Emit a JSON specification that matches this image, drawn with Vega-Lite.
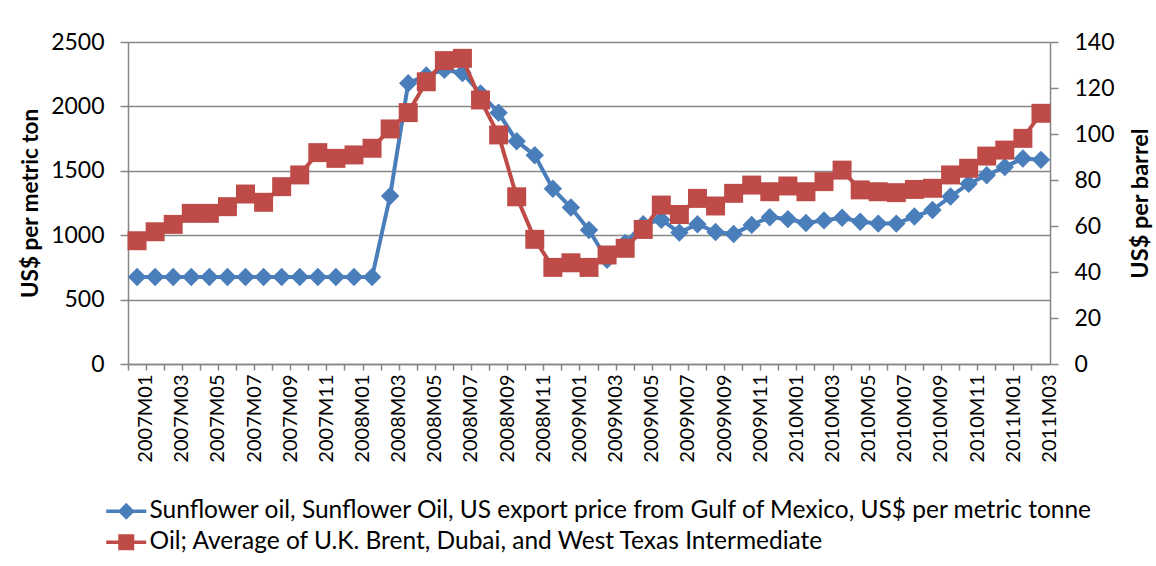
{
  "$schema": "https://vega.github.io/schema/vega-lite/v6.json",
  "autosize": "none",
  "width": 922,
  "height": 322,
  "padding": {"left": 128, "top": 42, "right": 106, "bottom": 202},
  "background": "white",
  "config": {
    "view": {"stroke": null},
    "font": "Lato",
    "axis": {"labelFont": "Lato", "titleFont": "Lato", "labelColor": "black", "titleColor": "black", "domainColor": "#868686", "tickColor": "#868686", "domainWidth": 1.5, "tickWidth": 1.5}
  },
  "data": {
    "values": [
      {"month": "2007M01", "sunflower": 675, "oil": 53.6},
      {"month": "2007M02", "sunflower": 675, "oil": 57.5},
      {"month": "2007M03", "sunflower": 675, "oil": 60.7},
      {"month": "2007M04", "sunflower": 675, "oil": 65.5},
      {"month": "2007M05", "sunflower": 675, "oil": 65.5},
      {"month": "2007M06", "sunflower": 675, "oil": 68.4},
      {"month": "2007M07", "sunflower": 675, "oil": 73.9},
      {"month": "2007M08", "sunflower": 675, "oil": 70.3},
      {"month": "2007M09", "sunflower": 675, "oil": 77.1},
      {"month": "2007M10", "sunflower": 675, "oil": 82.2},
      {"month": "2007M11", "sunflower": 675, "oil": 91.9},
      {"month": "2007M12", "sunflower": 675, "oil": 89.4},
      {"month": "2008M01", "sunflower": 675, "oil": 90.9},
      {"month": "2008M02", "sunflower": 675, "oil": 93.8},
      {"month": "2008M03", "sunflower": 1305, "oil": 102.2},
      {"month": "2008M04", "sunflower": 2180, "oil": 109.3},
      {"month": "2008M05", "sunflower": 2240, "oil": 122.7},
      {"month": "2008M06", "sunflower": 2285, "oil": 131.9},
      {"month": "2008M07", "sunflower": 2260, "oil": 132.9},
      {"month": "2008M08", "sunflower": 2100, "oil": 114.8},
      {"month": "2008M09", "sunflower": 1950, "oil": 99.6},
      {"month": "2008M10", "sunflower": 1730, "oil": 72.7},
      {"month": "2008M11", "sunflower": 1620, "oil": 54.2},
      {"month": "2008M12", "sunflower": 1360, "oil": 42.0},
      {"month": "2009M01", "sunflower": 1215, "oil": 44.0},
      {"month": "2009M02", "sunflower": 1040, "oil": 42.0},
      {"month": "2009M03", "sunflower": 810, "oil": 47.4},
      {"month": "2009M04", "sunflower": 940, "oil": 50.3},
      {"month": "2009M05", "sunflower": 1085, "oil": 58.5},
      {"month": "2009M06", "sunflower": 1120, "oil": 69.1},
      {"month": "2009M07", "sunflower": 1020, "oil": 65.0},
      {"month": "2009M08", "sunflower": 1085, "oil": 72.0},
      {"month": "2009M09", "sunflower": 1025, "oil": 68.7},
      {"month": "2009M10", "sunflower": 1010, "oil": 74.2},
      {"month": "2009M11", "sunflower": 1080, "oil": 77.8},
      {"month": "2009M12", "sunflower": 1140, "oil": 74.9},
      {"month": "2010M01", "sunflower": 1125, "oil": 77.4},
      {"month": "2010M02", "sunflower": 1095, "oil": 74.9},
      {"month": "2010M03", "sunflower": 1115, "oil": 79.3},
      {"month": "2010M04", "sunflower": 1135, "oil": 84.3},
      {"month": "2010M05", "sunflower": 1105, "oil": 75.7},
      {"month": "2010M06", "sunflower": 1090, "oil": 74.9},
      {"month": "2010M07", "sunflower": 1090, "oil": 74.5},
      {"month": "2010M08", "sunflower": 1145, "oil": 75.9},
      {"month": "2010M09", "sunflower": 1195, "oil": 76.4},
      {"month": "2010M10", "sunflower": 1300, "oil": 82.2},
      {"month": "2010M11", "sunflower": 1400, "oil": 85.1},
      {"month": "2010M12", "sunflower": 1465, "oil": 90.4},
      {"month": "2011M01", "sunflower": 1530, "oil": 93.0},
      {"month": "2011M02", "sunflower": 1595, "oil": 98.1},
      {"month": "2011M03", "sunflower": 1585, "oil": 109.0}
    ]
  },
  "encoding": {
    "x": {
      "field": "month", "type": "nominal", "sort": null, "bandPosition": 0.5,
      "scale": {"type": "band", "paddingInner": 0, "paddingOuter": 0},
      "axis": {
        "title": null, "bandPosition": 0, "labelOffset": 9, "labelAngle": 270,
        "labelAlign": "right", "labelBaseline": "middle", "labelFontSize": 20,
        "labelPadding": 4, "tickSize": 6, "grid": false, "labelOverlap": false,
        "labelExpr": "(toNumber(slice(datum.value, 5)) % 2 == 1) ? datum.value : ''"
      }
    }
  },
  "layer": [
    {
      "encoding": {
        "y": {
          "field": "sunflower", "type": "quantitative",
          "scale": {"domain": [0, 2500], "nice": false, "zero": true},
          "axis": {
            "orient": "left", "title": "US$ per metric ton", "values": [0, 500, 1000, 1500, 2000, 2500], "format": "d",
            "grid": true, "gridColor": "#868686", "gridWidth": 1.5, "tickSize": 8,
            "labelFontSize": 23, "labelPadding": 16, "titleFontSize": 22.5, "titleFontWeight": "bold", "titlePadding": 8
          }
        }
      },
      "layer": [
        {"mark": {"type": "line", "color": "#4A7EBB", "strokeWidth": 4}},
        {"mark": {"type": "point", "shape": "diamond", "filled": true, "color": "#4A7EBB", "opacity": 1, "size": 340}}
      ]
    },
    {
      "encoding": {
        "y": {
          "field": "oil", "type": "quantitative",
          "scale": {"domain": [0, 140], "nice": false, "zero": true},
          "axis": {
            "orient": "right", "title": "US$ per barrel", "values": [0, 20, 40, 60, 80, 100, 120, 140],
            "grid": false, "tickSize": 8, "labelFontSize": 23, "labelPadding": 16,
            "titleFontSize": 23.5, "titleFontWeight": "bold", "titleAngle": 270, "titleBaseline": "top", "titlePadding": 14
          }
        }
      },
      "layer": [
        {"mark": {"type": "line", "color": "#BE4B48", "strokeWidth": 4}},
        {"mark": {"type": "point", "shape": "square", "filled": true, "color": "#BE4B48", "opacity": 1, "size": 360}}
      ]
    },
    {
      "transform": [{"fold": ["sunflower", "oil"], "as": ["series", "value"]}],
      "mark": {"type": "point", "filled": true, "opacity": 0},
      "encoding": {
        "color": {
          "field": "series", "type": "nominal",
          "scale": {"domain": ["sunflower", "oil"], "range": ["#4A7EBB", "#BE4B48"]},
          "legend": {
            "title": null, "orient": "none", "legendX": -24, "legendY": 457, "direction": "vertical",
            "padding": 0, "symbolSize": 400, "symbolOpacity": 1, "symbolStrokeWidth": 0,
            "labelFont": "Lato", "labelFontSize": 24.5, "labelColor": "black", "labelOffset": 21, "rowPadding": 6,
            "labelLimit": 0,
            "labelExpr": "datum.value == 'sunflower' ? 'Sunflower oil, Sunflower Oil, US export price from Gulf of Mexico, US$ per metric tonne' : 'Oil; Average of U.K. Brent, Dubai, and West Texas Intermediate'"
          }
        },
        "shape": {
          "field": "series", "type": "nominal",
          "scale": {"domain": ["sunflower", "oil"], "range": ["M-1,-0.18H3V0.18H-1Z M1,-0.85L1.85,0L1,0.85L0.15,0Z", "M-1,-0.18H3V0.18H-1Z M0.2,-0.8H1.8V0.8H0.2Z"]},
          "legend": {
            "title": null, "orient": "none", "legendX": -24, "legendY": 457, "direction": "vertical",
            "padding": 0, "symbolSize": 400, "symbolOpacity": 1, "symbolStrokeWidth": 0,
            "labelFont": "Lato", "labelFontSize": 24.5, "labelColor": "black", "labelOffset": 21, "rowPadding": 6,
            "labelLimit": 0,
            "labelExpr": "datum.value == 'sunflower' ? 'Sunflower oil, Sunflower Oil, US export price from Gulf of Mexico, US$ per metric tonne' : 'Oil; Average of U.K. Brent, Dubai, and West Texas Intermediate'"
          }
        }
      }
    }
  ],
  "resolve": {"scale": {"y": "independent"}}
}
